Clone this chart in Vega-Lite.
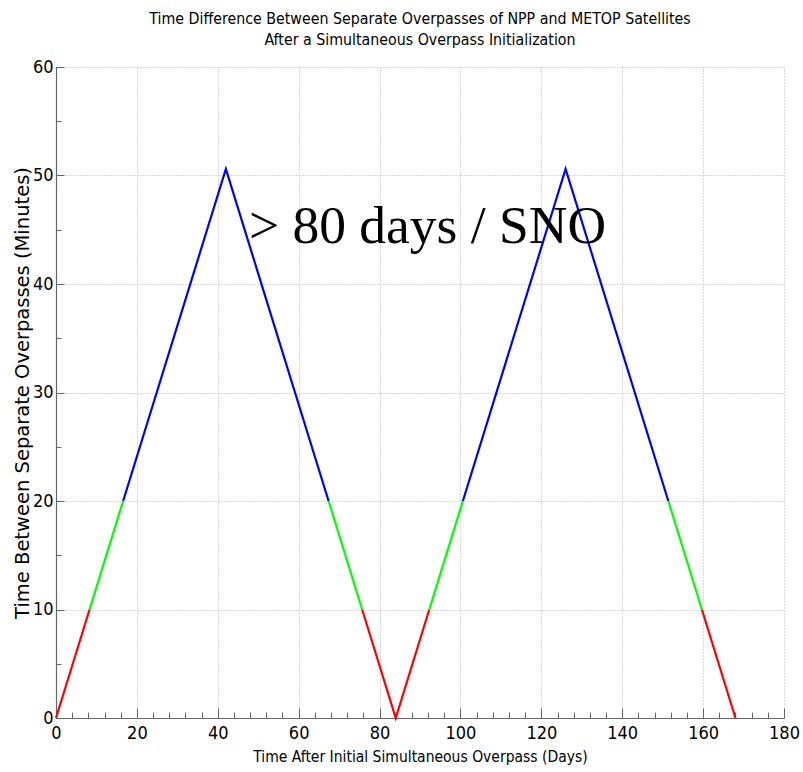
{
  "$schema": "https://vega.github.io/schema/vega-lite/v6.json",
  "width": 728,
  "height": 651,
  "autosize": {"type": "none"},
  "padding": {"left": 56, "top": 67, "right": 19, "bottom": 54},
  "background": "white",
  "config": {
    "view": {"stroke": null},
    "font": "DejaVu Sans Condensed, sans-serif"
  },
  "title": {
    "text": ["Time Difference Between Separate Overpasses of NPP and METOP Satellites", "After a Simultaneous Overpass Initialization"],
    "font": "DejaVu Sans Condensed, sans-serif",
    "fontSize": 15.8,
    "fontWeight": "normal",
    "lineHeight": 21,
    "offset": 9,
    "anchor": "middle",
    "frame": "group",
    "color": "#000000"
  },
  "resolve": {"axis": {"x": "independent", "y": "independent"}},
  "layer": [
    {
      "data": {
        "values": [
          {"day": 0, "minutes": 0, "band": "low", "seg": "A"},
          {"day": 8.3, "minutes": 10, "band": "low", "seg": "A"},
          {"day": 8.3, "minutes": 10, "band": "mid", "seg": "B"},
          {"day": 16.6, "minutes": 20, "band": "mid", "seg": "B"},
          {"day": 16.6, "minutes": 20, "band": "high", "seg": "C"},
          {"day": 42, "minutes": 50.6, "band": "high", "seg": "C"},
          {"day": 67.4, "minutes": 20, "band": "high", "seg": "C"},
          {"day": 67.4, "minutes": 20, "band": "mid", "seg": "D"},
          {"day": 75.7, "minutes": 10, "band": "mid", "seg": "D"},
          {"day": 75.7, "minutes": 10, "band": "low", "seg": "E"},
          {"day": 84, "minutes": 0, "band": "low", "seg": "E"},
          {"day": 92.3, "minutes": 10, "band": "low", "seg": "E"},
          {"day": 92.3, "minutes": 10, "band": "mid", "seg": "F"},
          {"day": 100.6, "minutes": 20, "band": "mid", "seg": "F"},
          {"day": 100.6, "minutes": 20, "band": "high", "seg": "G"},
          {"day": 126, "minutes": 50.6, "band": "high", "seg": "G"},
          {"day": 151.4, "minutes": 20, "band": "high", "seg": "G"},
          {"day": 151.4, "minutes": 20, "band": "mid", "seg": "H"},
          {"day": 159.7, "minutes": 10, "band": "mid", "seg": "H"},
          {"day": 159.7, "minutes": 10, "band": "low", "seg": "I"},
          {"day": 168, "minutes": 0, "band": "low", "seg": "I"}
        ]
      },
      "mark": {"type": "line", "strokeWidth": 2.2, "clip": false},
      "encoding": {
        "x": {
          "field": "day", "type": "quantitative",
          "scale": {"domain": [0, 180], "nice": false, "zero": false},
          "axis": {
            "orient": "bottom",
            "values": [0, 20, 40, 60, 80, 100, 120, 140, 160, 180],
            "title": "Time After Initial Simultaneous Overpass (Days)",
            "titleFont": "DejaVu Sans Condensed, sans-serif",
            "titleFontSize": 15.5,
            "titleFontWeight": "normal",
            "titleColor": "#000000",
            "titlePadding": 7,
            "labelFont": "DejaVu Sans Condensed, sans-serif",
            "labelFontSize": 18,
            "labelColor": "#000000",
            "labelPadding": 16,
            "labelFlush": false,
            "labelOverlap": false,
            "tickSize": -10,
            "tickColor": "#666666",
            "domainColor": "#666666",
            "domainWidth": 1.2,
            "grid": true,
            "gridColor": "#b0b0b0",
            "gridDash": [1, 2],
            "gridWidth": 1
          }
        },
        "y": {
          "field": "minutes", "type": "quantitative",
          "scale": {"domain": [0, 60], "nice": false, "zero": true},
          "axis": {
            "orient": "left",
            "values": [0, 10, 20, 30, 40, 50, 60],
            "title": "Time Between Separate Overpasses (Minutes)",
            "titleFont": "DejaVu Sans, sans-serif",
            "titleFontSize": 19.5,
            "titleFontWeight": "normal",
            "titleColor": "#000000",
            "titlePadding": 0,
            "labelFont": "DejaVu Sans Condensed, sans-serif",
            "labelFontSize": 18,
            "labelColor": "#000000",
            "labelPadding": 11,
            "labelFlush": false,
            "labelOverlap": false,
            "tickSize": -8,
            "tickColor": "#666666",
            "domainColor": "#666666",
            "domainWidth": 1.2,
            "grid": true,
            "gridColor": "#b0b0b0",
            "gridDash": [1, 2],
            "gridWidth": 1
          }
        },
        "color": {
          "field": "band", "type": "nominal",
          "scale": {"domain": ["low", "mid", "high"], "range": ["#ff0000", "#00ff00", "#0000ff"]},
          "legend": null
        },
        "detail": {"field": "seg", "type": "nominal"},
        "order": {"field": "day", "type": "quantitative"}
      }
    },
    {
      "data": {"values": [{"day": 47.7, "minutes": 43.8, "label": "> 80 days / SNO"}]},
      "mark": {"type": "text", "font": "Liberation Serif, Times New Roman, serif", "fontSize": 53.5, "align": "left", "baseline": "alphabetic", "color": "#000000"},
      "encoding": {
        "x": {
          "field": "day", "type": "quantitative",
          "axis": {
            "orient": "bottom",
            "values": [4, 8, 12, 16, 24, 28, 32, 36, 44, 48, 52, 56, 64, 68, 72, 76, 84, 88, 92, 96, 104, 108, 112, 116, 124, 128, 132, 136, 144, 148, 152, 156, 164, 168, 172, 176],
            "title": null, "labels": false, "domain": false, "grid": false,
            "tickSize": -6, "tickColor": "#666666"
          }
        },
        "y": {
          "field": "minutes", "type": "quantitative",
          "axis": {
            "orient": "left",
            "values": [5, 15, 25, 35, 45, 55],
            "title": null, "labels": false, "domain": false, "grid": false,
            "tickSize": -5, "tickColor": "#666666"
          }
        },
        "text": {"field": "label"}
      }
    }
  ]
}
